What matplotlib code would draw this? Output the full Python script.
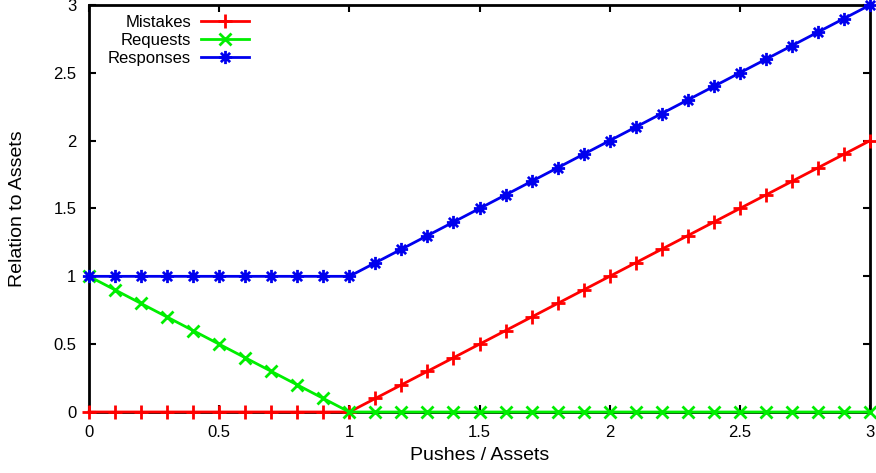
import matplotlib
matplotlib.use("Agg")
import matplotlib.pyplot as plt
from matplotlib.path import Path

plt.rcParams['font.family'] = ['Liberation Sans', 'DejaVu Sans']

x = [0.0, 0.1, 0.2, 0.3, 0.4, 0.5, 0.6, 0.7, 0.8, 0.9, 1.0,
     1.1, 1.2, 1.3, 1.4, 1.5, 1.6, 1.7, 1.8, 1.9, 2.0,
     2.1, 2.2, 2.3, 2.4, 2.5, 2.6, 2.7, 2.8, 2.9, 3.0]
mistakes = [0, 0, 0, 0, 0, 0, 0, 0, 0, 0, 0,
            0.1, 0.2, 0.3, 0.4, 0.5, 0.6, 0.7, 0.8, 0.9, 1.0,
            1.1, 1.2, 1.3, 1.4, 1.5, 1.6, 1.7, 1.8, 1.9, 2.0]
requests = [1.0, 0.9, 0.8, 0.7, 0.6, 0.5, 0.4, 0.3, 0.2, 0.1, 0.0,
            0, 0, 0, 0, 0, 0, 0, 0, 0, 0,
            0, 0, 0, 0, 0, 0, 0, 0, 0, 0]
responses = [1, 1, 1, 1, 1, 1, 1, 1, 1, 1, 1.0,
             1.1, 1.2, 1.3, 1.4, 1.5, 1.6, 1.7, 1.8, 1.9, 2.0,
             2.1, 2.2, 2.3, 2.4, 2.5, 2.6, 2.7, 2.8, 2.9, 3.0]
ticks = [0, 0.5, 1, 1.5, 2, 2.5, 3]
tick_labels = ['0', '0.5', '1', '1.5', '2', '2.5', '3']

star = Path([(-1, 0), (1, 0), (0, -1), (0, 1), (-0.7, -0.7), (0.7, 0.7), (-0.7, 0.7), (0.7, -0.7)],
            [Path.MOVETO, Path.LINETO] * 4)

fig = plt.figure(figsize=(8.76, 4.73), dpi=100)
ax = fig.add_axes([89/876, 1-412/473, (870-89)/876, (412-5)/473])

ax.plot(x, mistakes, color='#ff0000', lw=2, marker='+', ms=10, mew=2, clip_on=False, label='Mistakes', zorder=3)
ax.plot(x, requests, color='#00ee00', lw=2, marker='x', ms=8, mew=2, clip_on=False, label='Requests', zorder=4)
ax.plot(x, responses, color='#0000ee', lw=2, marker=star, ms=9.5, mew=2, mfc='none', clip_on=False, label='Responses', zorder=5)

ax.set_xlim(0, 3)
ax.set_ylim(0, 3)
ax.set_xticks(ticks)
ax.set_xticklabels(tick_labels)
ax.set_yticks(ticks)
ax.set_yticklabels(tick_labels)
ax.tick_params(direction='in', length=5, width=1.5, top=True, right=True, labelsize=12, colors='black')
ax.tick_params(axis='x', pad=9)
ax.tick_params(axis='y', pad=9)
for s in ax.spines.values():
    s.set_linewidth(2)
    s.set_zorder(2.5)
ax.set_xlabel('Pushes / Assets', fontsize=14, va='center')
ax.set_ylabel('Relation to Assets', fontsize=14, va='center')
ax.xaxis.set_label_coords(0.5, (412-455)/407)
ax.yaxis.set_label_coords((18-89)/781, 0.5)

leg = ax.legend(loc='upper left', bbox_to_anchor=(0.0115, 1.0), markerfirst=False, frameon=False,
                fontsize=12, handlelength=2.9, handletextpad=0.6, labelspacing=0.19,
                borderaxespad=0.3, borderpad=0.3)
for t in leg.get_texts():
    t.set_ha('right')
leg._legend_box.align = 'right'

fig.savefig('out.png', dpi=100)
